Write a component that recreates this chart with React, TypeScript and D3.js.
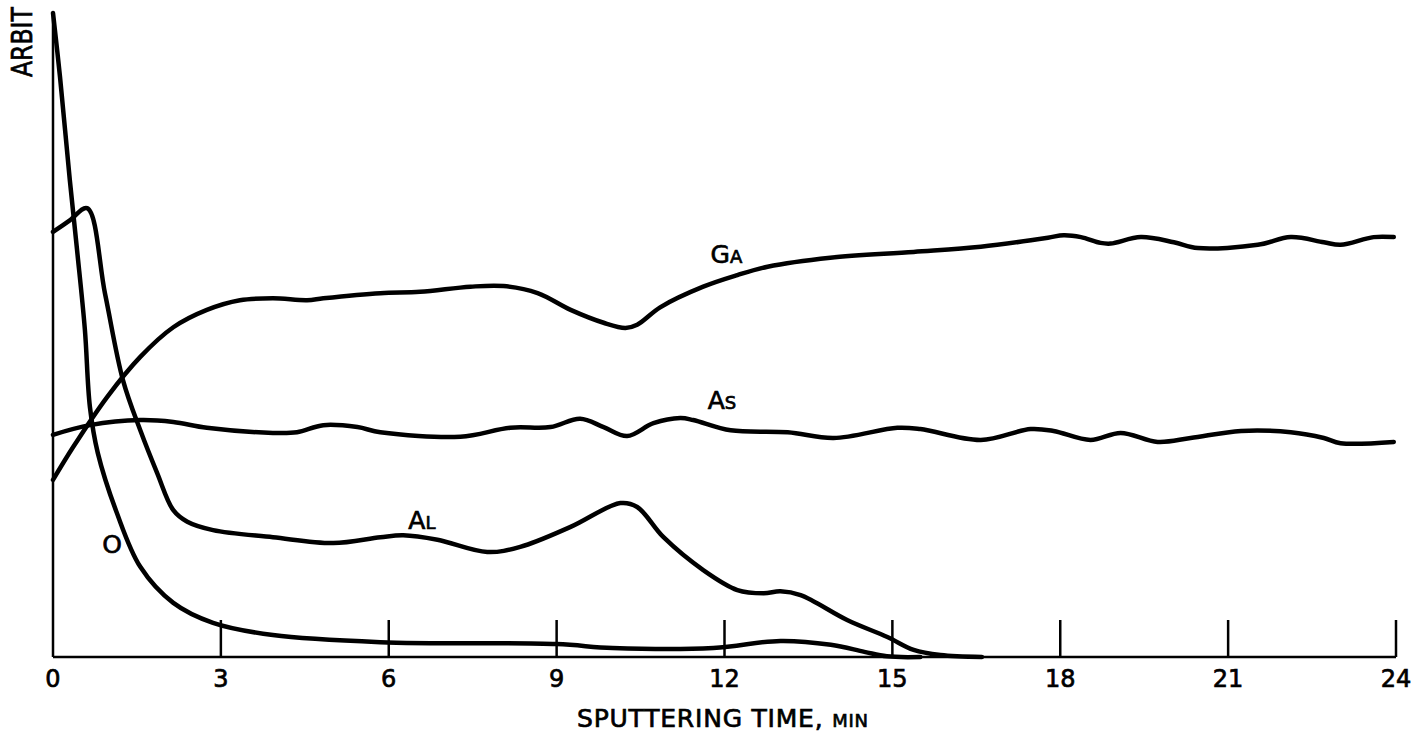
import React from 'react';
import * as d3 from 'd3';

// sputtering depth profile, arbitrary units (0..100 = full height of the axis)
const xTicks = [0, 3, 6, 9, 12, 15, 18, 21, 24];

const oTime = [0, 0.125, 0.3, 0.43, 0.57, 0.66, 0.8, 1.14, 1.56, 2.15, 2.86, 3.93, 5.85, 9.0, 10.0, 11.8, 13.0, 13.9, 14.5, 14.9, 15.5];
const oValue = [100, 90.1, 74.1, 63.2, 50.8, 38.8, 31.7, 22.4, 14.0, 8.4, 5.3, 3.4, 2.3, 2.0, 1.4, 1.4, 2.5, 1.9, 0.8, 0.1, 0];

const alTime = [0, 0.3, 0.61, 0.93, 1.25, 1.56, 1.86, 2.15, 2.4, 2.86, 3.93, 5.01, 5.85, 6.26, 6.87, 7.76, 8.35, 9.25, 10.14, 10.44, 10.91, 11.62, 12.23, 12.7, 13.0, 13.36, 14.2, 14.91, 15.38, 15.86, 16.6];
const alValue = [66.0, 67.8, 69.7, 56.4, 43.0, 35.2, 28.6, 22.8, 21.0, 19.7, 18.6, 17.7, 18.6, 18.9, 18.2, 16.3, 17.1, 20.2, 23.9, 23.3, 18.6, 13.5, 10.4, 9.9, 10.2, 9.6, 5.7, 3.1, 1.1, 0.3, 0];

const gaTime = [0, 0.36, 0.97, 1.56, 2.15, 2.75, 3.34, 3.93, 4.54, 4.83, 5.85, 6.56, 7.46, 8.05, 8.66, 9.25, 9.84, 10.23, 10.44, 10.85, 11.62, 12.23, 12.77, 13.89, 15.38, 16.58, 17.78, 18.06, 18.37, 18.72, 18.9, 19.44, 20.03, 20.46, 21.53, 22.12, 22.71, 23.01, 23.6, 23.96];
const gaValue = [27.5, 32.6, 40.4, 46.6, 51.2, 53.9, 55.4, 55.7, 55.4, 55.7, 56.5, 56.7, 57.5, 57.6, 56.5, 53.9, 51.9, 51.1, 51.6, 54.3, 57.5, 59.3, 60.6, 62.0, 62.9, 63.7, 65.1, 65.5, 65.2, 64.3, 64.2, 65.2, 64.4, 63.5, 64.0, 65.2, 64.4, 64.0, 65.2, 65.2];

const asTime = [0, 0.66, 1.56, 2.15, 2.75, 3.93, 4.36, 4.83, 5.44, 5.85, 7.28, 8.17, 8.89, 9.42, 9.84, 10.26, 10.73, 11.21, 11.44, 12.11, 13.13, 13.95, 15.09, 15.5, 16.58, 17.47, 17.88, 18.54, 19.08, 19.74, 20.33, 21.23, 22.12, 22.71, 23.01, 23.96];
const asValue = [34.5, 36.0, 36.8, 36.5, 35.6, 34.8, 34.9, 36.0, 35.7, 34.9, 34.2, 35.6, 35.7, 37.0, 35.7, 34.3, 36.3, 37.1, 36.8, 35.2, 34.9, 34.0, 35.6, 35.4, 33.7, 35.4, 35.1, 33.7, 34.8, 33.4, 34.0, 35.1, 34.9, 34.0, 33.2, 33.4];

const W = 1424;
const H = 734;
const margin = { top: 13, right: 28, bottom: 77, left: 53 };
const font = '"DejaVu Sans", sans-serif';

const App = () => {
  const x = d3.scaleLinear().domain([0, 24]).range([margin.left, W - margin.right]);
  const y = d3.scaleLinear().domain([0, 100]).range([H - margin.bottom, margin.top]);

  const line = d3
    .line<[number, number]>()
    .x((d) => x(d[0]))
    .y((d) => y(d[1]))
    .curve(d3.curveCatmullRom.alpha(0.5));

  const series = [
    { t: oTime, v: oValue },
    { t: alTime, v: alValue },
    { t: gaTime, v: gaValue },
    { t: asTime, v: asValue },
  ];

  const base = y(0);
  // slightly heavier lettering, like the stencilled original
  const ink = { fill: '#000', stroke: '#000', strokeWidth: 0.7 };

  return (
    <svg width={W} height={H} style={{ position: 'absolute', left: 0, top: 0, background: '#fff' }} fontFamily={font}>
      {/* axes */}
      <line x1={x(0)} x2={x(0)} y1={y(100)} y2={base} stroke="#000" strokeWidth={2.5} />
      <line x1={x(0)} x2={x(24)} y1={base} y2={base} stroke="#000" strokeWidth={2.5} />
      {xTicks.map((t) => (
        <g key={t}>
          {t > 0 && <line x1={x(t)} x2={x(t)} y1={base} y2={base - 37} stroke="#000" strokeWidth={2.5} />}
          <text x={x(t)} y={base + 30} textAnchor="middle" fontSize={24} {...ink}>
            {t}
          </text>
        </g>
      ))}
      <text x={577} y={base + 70} fontSize={25} textLength={291} lengthAdjust="spacing" {...ink}>
        SPUTTERING TIME, <tspan fontSize={18}>MIN</tspan>
      </text>
      <text transform="translate(32,77) rotate(-90) scale(0.84,1)" fontSize={28} {...ink}>
        ARBIT
      </text>

      {/* curves */}
      {series.map((s, i) => (
        <path
          key={i}
          d={line(s.t.map((t, j) => [t, s.v[j]]) as [number, number][]) || ''}
          fill="none"
          stroke="#000"
          strokeWidth={4.5}
          strokeLinejoin="round"
          strokeLinecap="round"
        />
      ))}

      {/* curve labels */}
      <text x={x(11.75)} y={y(61.2)} fontSize={25} {...ink}>
        G<tspan fontSize={18}>A</tspan>
      </text>
      <text x={x(11.7)} y={y(38.5)} fontSize={25} {...ink}>
        A<tspan fontSize={18}>S</tspan>
      </text>
      <text x={x(6.35)} y={y(19.8)} fontSize={25} {...ink}>
        A<tspan fontSize={18}>L</tspan>
      </text>
      <text x={x(0.88)} y={y(16.2)} fontSize={25} {...ink}>
        O
      </text>
    </svg>
  );
};

export default App;
